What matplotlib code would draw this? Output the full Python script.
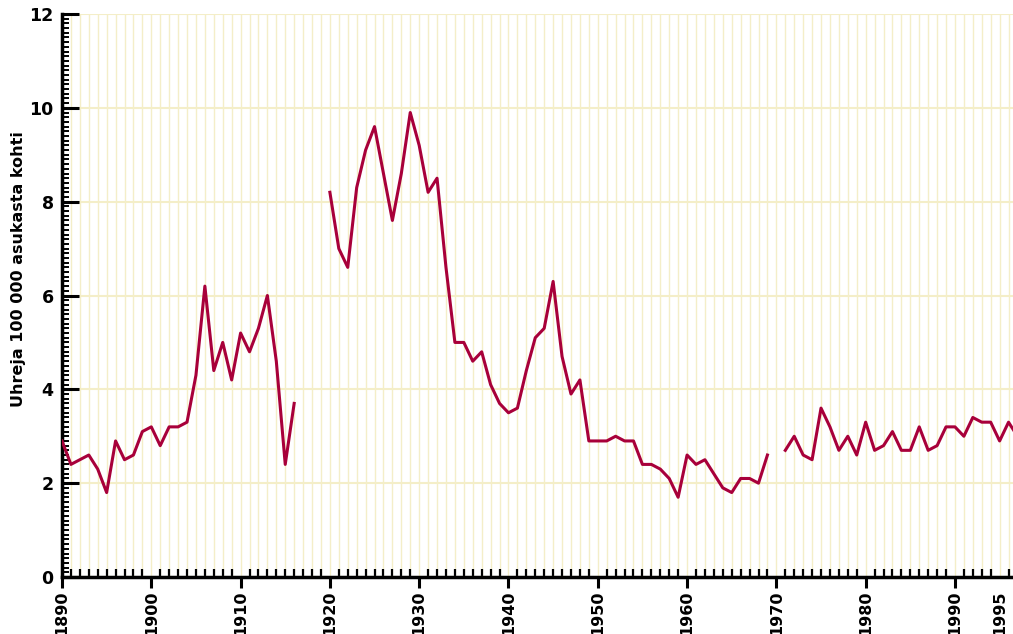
import numpy as np
import matplotlib.pyplot as plt
from matplotlib.ticker import MultipleLocator

# homicides per 100 000 inhabitants, Finland 1890-1997 (gaps = no data)
years = np.arange(1890, 1998)
values = [
    2.9, 2.4, 2.5, 2.6, 2.3, 1.8, 2.9, 2.5, 2.6, 3.1,   # 1890s
    3.2, 2.8, 3.2, 3.2, 3.3, 4.3, 6.2, 4.4, 5.0, 4.2,   # 1900s
    5.2, 4.8, 5.3, 6.0, 4.6, 2.4, 3.7, None, None, None,  # 1910s
    8.2, 7.0, 6.6, 8.3, 9.1, 9.6, 8.6, 7.6, 8.6, 9.9,   # 1920s
    9.2, 8.2, 8.5, 6.6, 5.0, 5.0, 4.6, 4.8, 4.1, 3.7,   # 1930s
    3.5, 3.6, 4.4, 5.1, 5.3, 6.3, 4.7, 3.9, 4.2, 2.9,   # 1940s
    2.9, 2.9, 3.0, 2.9, 2.9, 2.4, 2.4, 2.3, 2.1, 1.7,   # 1950s
    2.6, 2.4, 2.5, 2.2, 1.9, 1.8, 2.1, 2.1, 2.0, 2.6,   # 1960s
    None, 2.7, 3.0, 2.6, 2.5, 3.6, 3.2, 2.7, 3.0, 2.6,  # 1970s
    3.3, 2.7, 2.8, 3.1, 2.7, 2.7, 3.2, 2.7, 2.8, 3.2,   # 1980s
    3.2, 3.0, 3.4, 3.3, 3.3, 2.9, 3.3, 3.0,             # 1990s
]
values = np.array([np.nan if v is None else v for v in values])

xticks = list(range(1890, 2000, 10)) + [1995]
ylabel = "Uhreja 100 000 asukasta kohti"

plt.rcParams['font.family'] = ['DejaVu Sans']
plt.rcParams['font.weight'] = 'bold'

fig = plt.figure(figsize=(10.13, 6.34), dpi=100)
ax = fig.add_axes([0.0612, 0.0899, 0.9388, 0.8880])

grid_col = '#f4eec8'
ax.plot(years, values, color='#a8003a', lw=2.2, zorder=3)

ax.set_xlim(1890, 1996.5)
ax.set_ylim(0, 12)
ax.set_xticks(xticks)
ax.set_xticklabels([str(t) for t in xticks], rotation=90, fontsize=11.5, fontweight='bold')
ax.xaxis.set_minor_locator(MultipleLocator(1))
ax.yaxis.set_major_locator(MultipleLocator(2))
ax.yaxis.set_minor_locator(MultipleLocator(0.1))
for lab in ax.get_yticklabels():
    lab.set_fontsize(12.5)
    lab.set_fontweight('bold')

ax.grid(which='minor', axis='x', color=grid_col, lw=1.0, zorder=0)
ax.grid(which='major', axis='x', color=grid_col, lw=1.0, zorder=0)
ax.grid(which='major', axis='y', color=grid_col, lw=1.5, zorder=0)
ax.set_axisbelow(True)

ax.tick_params(axis='x', which='major', direction='out', length=8, width=2.2, pad=1.5)
ax.tick_params(axis='x', which='minor', direction='in', length=6, width=1.6)
ax.tick_params(axis='y', which='major', direction='in', length=12, width=2.2, pad=6)
ax.tick_params(axis='y', which='minor', direction='in', length=5, width=1.4)
# no down tick at 1995, only the label
ax.xaxis.get_major_ticks()[-1].tick1line.set_visible(False)

for s in ['top', 'right']:
    ax.spines[s].set_visible(False)
for s in ['left', 'bottom']:
    ax.spines[s].set_linewidth(2.5)

ax.set_ylabel(ylabel, fontsize=11.5, fontweight='bold')
ax.yaxis.set_label_coords(-0.038, 0.547)

fig.savefig("out.png", dpi=100)
